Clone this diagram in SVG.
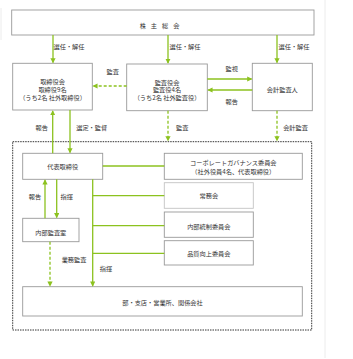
<svg xmlns="http://www.w3.org/2000/svg" width="353" height="359" viewBox="0 0 353 359">
<defs>
<style>
.box{fill:#fff;stroke:#999;stroke-width:0.9}
.lt{stroke:#c4c4c4}
.t{font-family:"Noto Sans CJK JP","Noto Sans",sans-serif;font-size:6.2px;fill:#333;text-anchor:middle}
.g{stroke:#8cc21f;stroke-width:1.3;fill:none}
.d{stroke-dasharray:3,2}
</style>
<marker id="ah" viewBox="0 0 6 6" refX="5" refY="3" markerWidth="4" markerHeight="4" orient="auto"><path d="M0,0L6,3L0,6z" fill="#8cc21f"/></marker>
</defs>
<rect width="353" height="359" fill="#fff"/>
<line x1="325" y1="0" x2="325" y2="358" stroke="#ececec" stroke-width="1"/>
<line x1="1" y1="8" x2="1" y2="40" stroke="#ececec" stroke-width="1"/>

<g id="kabunushi"><rect class="box" x="11.7" y="10" width="302.3" height="25"/><text class="t" x="162" y="27.5" letter-spacing="5">株主総会</text></g>
<g id="torishimariyakukai"><rect class="box" x="12.7" y="63.3" width="79.6" height="46.7"/><text class="t" x="52.5" y="84">取締役会</text><text class="t" x="52.5" y="91.8">取締役9名</text><text class="t" x="52.5" y="99.6">（うち2名 社外取締役）</text></g>
<g id="kansayakukai"><rect class="box" x="126.7" y="64" width="80.6" height="46.7"/><text class="t" x="167" y="84.5">監査役会</text><text class="t" x="167" y="92.3">監査役4名</text><text class="t" x="167" y="100.1">（うち2名 社外監査役）</text></g>
<g id="kaikeikansanin"><rect class="box" x="252.3" y="63.3" width="60" height="47.4"/><text class="t" x="282.3" y="92.3">会計監査人</text></g>
<g id="group"><rect x="12.7" y="141.7" width="299" height="188.3" fill="none" stroke="#333" stroke-width="1" stroke-dasharray="1.5,1"/></g>
<g id="daihyo"><rect class="box" x="22.7" y="153.3" width="80" height="26"/><text class="t" x="62.7" y="168.5">代表取締役</text></g>
<g id="cg"><rect class="box" x="164.3" y="153.3" width="138" height="26"/><text class="t" x="233.3" y="165">コーポレートガバナンス委員会</text><text class="t" x="233.3" y="174">（社外役員4名、代表取締役）</text></g>
<g id="jomukai"><rect class="box lt" x="164.3" y="182.7" width="89" height="25.6"/><text class="t" x="208.8" y="197.8">常務会</text></g>
<g id="naibutosei"><rect class="box" x="164.3" y="212" width="89" height="25.3"/><text class="t" x="208.8" y="228.5">内部統制委員会</text></g>
<g id="hinshitsu"><rect class="box" x="164.3" y="240.7" width="89" height="24.3"/><text class="t" x="208.8" y="256">品質向上委員会</text></g>
<g id="naibukansa"><rect class="box" x="22.7" y="218.3" width="56.3" height="23.4"/><text class="t" x="50.8" y="234.5">内部監査室</text></g>
<g id="bu"><rect class="box" x="22.7" y="286.7" width="279.6" height="29.3"/><text class="t" x="162.5" y="305">部・支店・営業所、関係会社</text></g>

<g id="connectors">
<line class="g" x1="53" y1="35" x2="53" y2="62.5" marker-end="url(#ah)"/>
<line class="g" x1="168" y1="35" x2="168" y2="63" marker-end="url(#ah)"/>
<line class="g" x1="277" y1="35" x2="277" y2="62.5" marker-end="url(#ah)"/>
<line class="g d" x1="126.7" y1="86" x2="93.2" y2="86" marker-end="url(#ah)"/>
<line class="g" x1="207.3" y1="79" x2="251.5" y2="79" marker-end="url(#ah)"/>
<line class="g" x1="252.3" y1="90" x2="208.2" y2="90" marker-end="url(#ah)"/>
<line class="g" x1="52.7" y1="153.3" x2="52.7" y2="111" marker-end="url(#ah)"/>
<line class="g" x1="70" y1="110" x2="70" y2="152.5" marker-end="url(#ah)"/>
<line class="g d" x1="168" y1="110.7" x2="168" y2="140.5" marker-end="url(#ah)"/>
<line class="g d" x1="277" y1="110.7" x2="277" y2="140.5" marker-end="url(#ah)"/>
<line class="g" x1="102.7" y1="166" x2="164.3" y2="166"/>
<line class="g" x1="92.7" y1="179.3" x2="92.7" y2="285.8" marker-end="url(#ah)"/>
<line class="g" x1="92.7" y1="195.7" x2="164.3" y2="195.7"/>
<line class="g" x1="92.7" y1="225.7" x2="164.3" y2="225.7"/>
<line class="g" x1="92.7" y1="253.3" x2="164.3" y2="253.3"/>
<line class="g" x1="45" y1="218.3" x2="45" y2="180.2" marker-end="url(#ah)"/>
<line class="g" x1="56.7" y1="179.3" x2="56.7" y2="217.4" marker-end="url(#ah)"/>
<line class="g d" x1="50" y1="241.7" x2="50" y2="285.8" marker-end="url(#ah)"/>
<g class="t">
<text x="69" y="48.5">選任・解任</text>
<text x="185" y="48.5">選任・解任</text>
<text x="294" y="48.5">選任・解任</text>
<text x="112.7" y="73.5">監査</text>
<text x="231.7" y="70.5">監視</text>
<text x="231.7" y="104">報告</text>
<text x="41.7" y="129.5">報告</text>
<text x="91.7" y="129.5">選定・監督</text>
<text x="182.3" y="129.5">監査</text>
<text x="295.5" y="129.5">会計監査</text>
<text x="35" y="199">報告</text>
<text x="66.7" y="199">指揮</text>
<text x="74" y="261.5">業務監査</text>
<text x="106" y="270.5">指揮</text>
</g>
</g>
</svg>
